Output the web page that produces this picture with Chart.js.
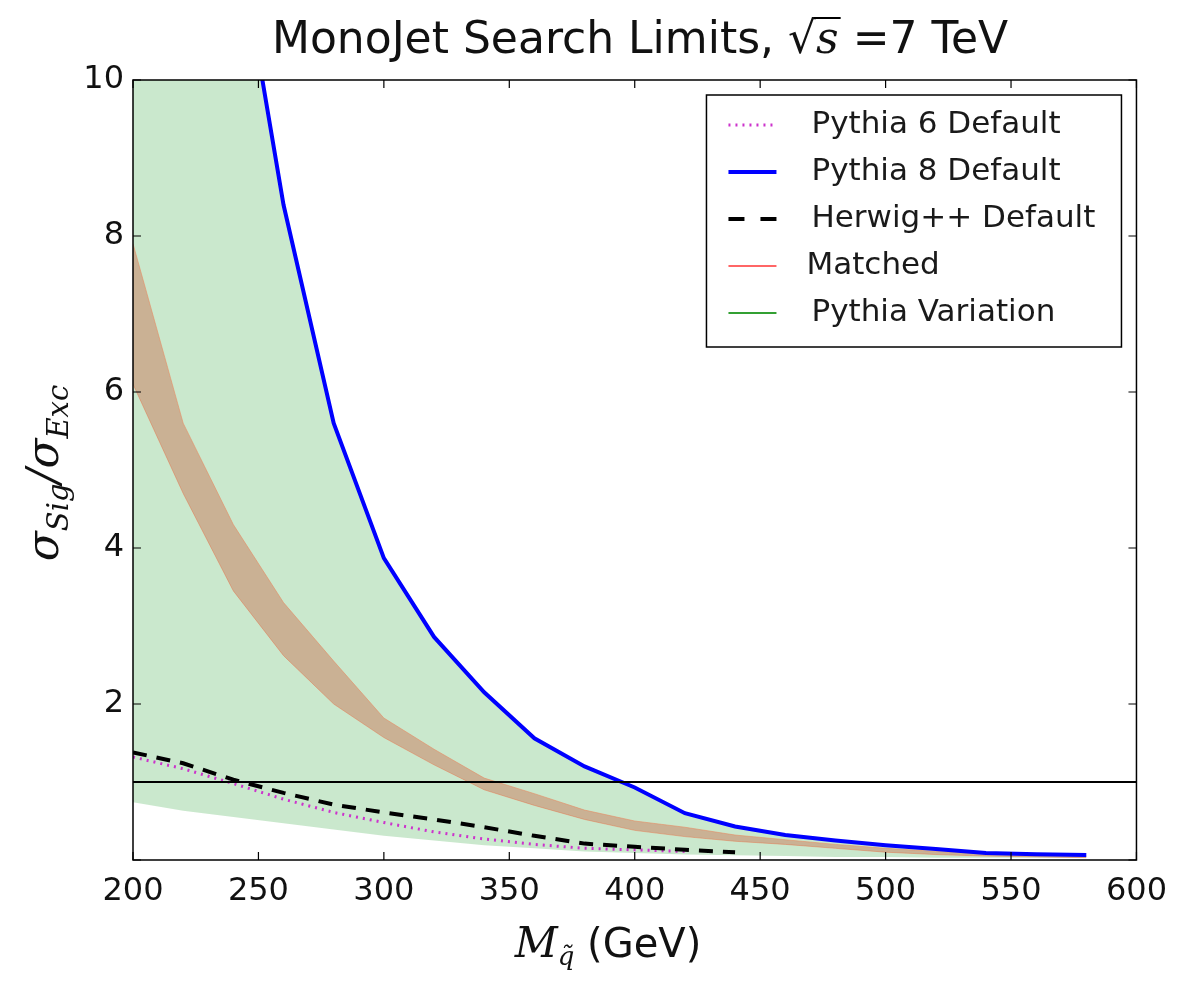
<!DOCTYPE html>
<html>
<head>
<meta charset="utf-8">
<script src="https://cdn.jsdelivr.net/npm/chart.js@4"></script>
<style>
  html, body { margin: 0; padding: 0; background: #fff; }
  #wrap { width: 1179px; height: 988px; }
</style>
</head>
<body>
<div id="wrap"><canvas id="myChart" width="1179" height="988"></canvas></div>
<script>
// squark mass points (GeV)
const massPoints = [200, 220, 240, 260, 280, 300, 320, 340, 360, 380, 400, 420, 440, 460, 480, 500, 520, 540, 560, 580];

// sigma_sig / sigma_exc for each generator
const pythia8Default = [25.0, 17.0, 12.2, 8.4, 5.6, 3.87, 2.86, 2.15, 1.56, 1.2, 0.93, 0.6, 0.43, 0.32, 0.25, 0.19, 0.14, 0.09, 0.075, 0.065];
const pythia6Default = [1.32, 1.17, 0.98, 0.78, 0.61, 0.48, 0.36, 0.27, 0.2, 0.15, 0.13, 0.11];
const herwigDefault = [1.38, 1.24, 1.03, 0.86, 0.71, 0.61, 0.52, 0.42, 0.31, 0.21, 0.17, 0.13, 0.1];

// bands
const matchedHigh = [7.9, 5.6, 4.3, 3.3, 2.55, 1.82, 1.42, 1.05, 0.85, 0.64, 0.5, 0.42, 0.32, 0.26, 0.2, 0.15, 0.11, 0.08, 0.06, 0.05];
const matchedLow = [6.1, 4.7, 3.45, 2.62, 2.0, 1.57, 1.22, 0.9, 0.7, 0.52, 0.38, 0.3, 0.24, 0.2, 0.15, 0.1, 0.07, 0.05, 0.04, 0.03];
const variationLow = [0.74, 0.63, 0.55, 0.47, 0.39, 0.31, 0.25, 0.19, 0.15, 0.11, 0.09, 0.07, 0.06, 0.05, 0.04, 0.04, 0.03, 0.03, 0.03, 0.03];
const variationHigh = pythia8Default;

// exclusion line
const unityX = [200, 600];
const unityY = [1, 1];

const xTicks = [200, 250, 300, 350, 400, 450, 500, 550, 600];
const yTicks = [0, 2, 4, 6, 8, 10];

const toPoints = (xs, ys) => ys.map((y, i) => ({ x: xs[i], y: y }));

const SANS = '"DejaVu Sans", sans-serif';
const SERIF = '"DejaVu Serif", serif';

// title, axis labels, inward ticks, frame and legend
const decorPlugin = {
    id: 'decor',
    afterDraw: (chart) => {
        const ctx = chart.ctx;
        const area = chart.chartArea;
        const xs = chart.scales.x;
        const ys = chart.scales.y;
        ctx.save();

        // frame
        ctx.strokeStyle = '#000';
        ctx.lineWidth = 1.5;
        ctx.strokeRect(area.left, area.top, area.right - area.left, area.bottom - area.top);

        // inward ticks
        ctx.lineWidth = 1.2;
        ctx.beginPath();
        xTicks.forEach((v) => {
            const px = xs.getPixelForValue(v);
            ctx.moveTo(px, area.bottom); ctx.lineTo(px, area.bottom - 8);
            ctx.moveTo(px, area.top); ctx.lineTo(px, area.top + 8);
        });
        yTicks.forEach((v) => {
            const py = ys.getPixelForValue(v);
            ctx.moveTo(area.left, py); ctx.lineTo(area.left + 8, py);
            ctx.moveTo(area.right, py); ctx.lineTo(area.right - 8, py);
        });
        ctx.stroke();

        ctx.fillStyle = '#111';
        ctx.textBaseline = 'alphabetic';

        // title: MonoJet Search Limits, sqrt(s) =7 TeV
        const parts = [
            { t: 'MonoJet Search Limits, ', f: '44px ' + SANS },
            { t: '\u221A', f: '44px ' + SERIF },
            { t: 's', f: 'italic 44px ' + SERIF, bar: true },
            { t: ' =7 TeV', f: '44px ' + SANS }
        ];
        let total = 0;
        parts.forEach((p) => { ctx.font = p.f; p.w = ctx.measureText(p.t).width; total += p.w; });
        let tx = 640 - total / 2;
        const ty = 53;
        parts.forEach((p) => {
            ctx.font = p.f;
            ctx.fillText(p.t, tx, ty);
            if (p.bar) {
                ctx.lineWidth = 2;
                ctx.beginPath();
                ctx.moveTo(tx - 2, ty - 35);
                ctx.lineTo(tx + p.w + 2, ty - 35);
                ctx.stroke();
            }
            tx += p.w;
        });

        // x label: M_q~ (GeV)
        ctx.font = 'italic 42px ' + SERIF;
        const mW = ctx.measureText('M').width;
        ctx.font = 'italic 26px ' + SERIF;
        const qW = ctx.measureText('q\u0303').width;
        ctx.font = '40px ' + SANS;
        const gW = ctx.measureText(' (GeV)').width;
        let lx = 608 - (mW + qW + gW) / 2;
        const ly = 957;
        ctx.font = 'italic 42px ' + SERIF;
        ctx.fillText('M', lx, ly);
        lx += mW;
        ctx.font = 'italic 26px ' + SERIF;
        ctx.fillText('q\u0303', lx, ly + 8);
        lx += qW;
        ctx.font = '40px ' + SANS;
        ctx.fillText(' (GeV)', lx, ly);

        // y label: sigma_Sig / sigma_Exc
        ctx.save();
        ctx.translate(58, 473);
        ctx.rotate(-Math.PI / 2);
        const yParts = [
            { t: '\u03C3', f: 'italic 44px ' + SERIF, dy: 0 },
            { t: 'Sig', f: 'italic 29px ' + SERIF, dy: 10 },
            { t: '/', f: 'italic 44px ' + SERIF, dy: 0 },
            { t: '\u03C3', f: 'italic 44px ' + SERIF, dy: 0 },
            { t: 'Exc', f: 'italic 29px ' + SERIF, dy: 10 }
        ];
        let yw = 0;
        yParts.forEach((p) => { ctx.font = p.f; p.w = ctx.measureText(p.t).width; yw += p.w; });
        let yx = -yw / 2;
        yParts.forEach((p) => {
            ctx.font = p.f;
            ctx.fillText(p.t, yx, p.dy);
            yx += p.w;
        });
        ctx.restore();

        // legend box
        const bx = area.right - 430, by = area.top + 15, bw = 415, bh = 252;
        ctx.fillStyle = '#fff';
        ctx.fillRect(bx, by, bw, bh);
        ctx.strokeStyle = '#000';
        ctx.lineWidth = 1.5;
        ctx.strokeRect(bx, by, bw, bh);
        const entries = [
            { label: 'Pythia 6 Default', color: '#cc33cc', width: 3, dash: [2, 5] },
            { label: 'Pythia 8 Default', color: '#0000ff', width: 4, dash: [] },
            { label: 'Herwig++ Default', color: '#000', width: 4, dash: [16, 16] },
            { label: 'Matched', color: '#ff6666', width: 2, dash: [] },
            { label: 'Pythia Variation', color: '#33a033', width: 2, dash: [] }
        ];
        ctx.font = '31px ' + SANS;
        ctx.textBaseline = 'middle';
        entries.forEach((e, i) => {
            const ey = by + 30 + i * 47;
            ctx.strokeStyle = e.color;
            ctx.lineWidth = e.width;
            ctx.setLineDash(e.dash);
            ctx.beginPath();
            ctx.moveTo(bx + 22, ey);
            ctx.lineTo(bx + 70, ey);
            ctx.stroke();
            ctx.setLineDash([]);
            ctx.fillStyle = '#1a1a1a';
            ctx.fillText(e.label, bx + (e.label === 'Matched' ? 100 : 105), ey);
        });

        ctx.restore();
    }
};

const ctx = document.getElementById('myChart').getContext('2d');
const myChart = new Chart(ctx, {
    type: 'line',
    data: {
        datasets: [
            {   // 0: variation low edge
                data: toPoints(massPoints, variationLow),
                borderWidth: 0, pointRadius: 0, fill: false, order: 10
            },
            {   // 1: variation high edge
                data: toPoints(massPoints, variationHigh),
                borderWidth: 0, pointRadius: 0,
                fill: { target: 0 }, backgroundColor: 'rgba(60,170,70,0.27)', order: 9
            },
            {   // 2: matched low edge
                data: toPoints(massPoints, matchedLow),
                borderColor: 'rgba(230,140,100,0.6)', borderWidth: 1, pointRadius: 0, fill: false, order: 8
            },
            {   // 3: matched high edge
                data: toPoints(massPoints, matchedHigh),
                borderColor: 'rgba(230,140,100,0.6)', borderWidth: 1, pointRadius: 0,
                fill: { target: 2 }, backgroundColor: 'rgba(205,110,80,0.45)', order: 7
            },
            {   // 4: pythia 6
                data: toPoints(massPoints, pythia6Default),
                borderColor: '#cc33cc', borderWidth: 3, borderDash: [2, 5], pointRadius: 0, fill: false, order: 5
            },
            {   // 5: herwig++
                data: toPoints(massPoints, herwigDefault),
                borderColor: '#000', borderWidth: 4, borderDash: [14, 10], pointRadius: 0, fill: false, order: 4
            },
            {   // 6: pythia 8
                data: toPoints(massPoints, pythia8Default),
                borderColor: '#0000ff', borderWidth: 4, pointRadius: 0, fill: false, order: 3
            },
            {   // 7: limit = 1
                data: toPoints(unityX, unityY),
                borderColor: '#000', borderWidth: 1.8, pointRadius: 0, fill: false, order: 2
            }
        ]
    },
    options: {
        responsive: false,
        animation: false,
        layout: { padding: { left: 0, right: 39, top: 80, bottom: 0 } },
        plugins: {
            legend: { display: false },
            title: { display: false },
            tooltip: { enabled: false }
        },
        elements: { line: { tension: 0 } },
        scales: {
            x: {
                type: 'linear',
                min: 200,
                max: 600,
                afterFit: (scale) => { scale.height = 128; },
                grid: { display: false, drawTicks: false },
                border: { display: false },
                ticks: {
                    stepSize: 50,
                    padding: 12,
                    color: '#111',
                    font: { family: SANS, size: 32 }
                }
            },
            y: {
                type: 'linear',
                min: 0,
                max: 10,
                afterFit: (scale) => { scale.width = 133; },
                grid: { display: false, drawTicks: false },
                border: { display: false },
                ticks: {
                    stepSize: 2,
                    padding: 9,
                    color: '#111',
                    font: { family: SANS, size: 32 },
                    callback: (v) => (v === 0 ? '' : v)
                }
            }
        }
    },
    plugins: [decorPlugin]
});
</script>
</body>
</html>
